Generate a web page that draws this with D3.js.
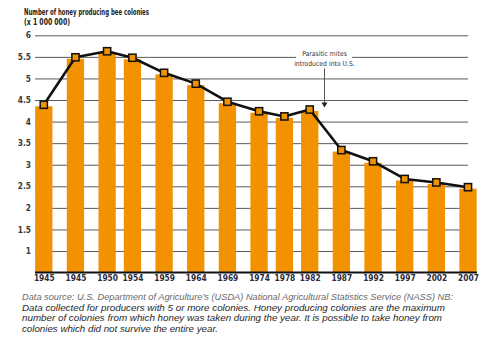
<!DOCTYPE html>
<html>
<head>
<meta charset="utf-8">
<title>Honey producing bee colonies</title>
<script src="https://d3js.org/d3.v7.min.js"></script>
<style>
  body { margin: 0; background: #fff; }
  svg text { font-family: "Liberation Sans Narrow", "DejaVu Sans Condensed", sans-serif; }
  .axis .domain { display: none; }
</style>
</head>
<body>
<div id="chart"></div>
<script>
// tick labels under the bars (the first one really reads 1945 twice)
const yearLabels = ["1945", "1945", "1950", "1954", "1959", "1964", "1969", "1974", "1978", "1982", "1987", "1992", "1997", "2002", "2007"];
// where each bar sits on the time axis (first bar one 5-year step left of 1945)
const yearPos = [1940, 1945, 1950, 1954, 1959, 1964, 1969, 1974, 1978, 1982, 1987, 1992, 1997, 2002, 2007];
// colonies, millions
const colonies = [4.39, 5.49, 5.63, 5.48, 5.13, 4.88, 4.46, 4.24, 4.12, 4.28, 3.34, 3.08, 2.67, 2.59, 2.48];
const yTicks = [1, 1.5, 2, 2.5, 3, 3.5, 4, 4.5, 5, 5.5, 6];

const titleLines = ["Number of honey producing bee colonies", "(x 1 000 000)"];
const noteLines = [
  "Data source: U.S. Department of Agriculture\u2019s (USDA) National Agricultural Statistics Service (NASS) NB:",
  "Data collected for producers with 5 or more colonies. Honey producing colonies are the maximum",
  "number of colonies from which honey was taken during the year. It is possible to take honey from",
  "colonies which did not survive the entire year."
];
const noteWidths = [431, 423, 420, 196];

const width = 490, height = 353;
const left = 35, gridRight = 468;

const svg = d3.select("#chart").append("svg")
  .attr("width", width)
  .attr("height", height)
  .style("display", "block");

svg.append("rect").attr("width", width).attr("height", height).attr("fill", "#fff");

const x = d3.scaleLinear().domain([1940, 2007]).range([43.8, 468]);
const y = d3.scaleLinear().domain([0.5, 6]).range([272.6, 35.3]);
const barW = 17.3;

// y axis with gridlines
const yAxis = svg.append("g")
  .attr("class", "axis")
  .attr("transform", "translate(" + left + ",0)")
  .call(d3.axisLeft(y).tickValues(yTicks).tickSize(-(gridRight - left)).tickPadding(4).tickFormat(d3.format("")));
yAxis.selectAll(".tick line").attr("stroke", "#5a5a5a").attr("stroke-width", 1);
yAxis.selectAll(".tick text")
  .attr("fill", "#3a3a3a")
  .style("font-size", "8.3px")
  .style("font-weight", "bold");

// gap in the 5.5 gridline for the annotation
svg.append("rect")
  .attr("x", 296).attr("y", 48)
  .attr("width", 56).attr("height", 20)
  .attr("fill", "#fff");

// bars (tops sit just under the markers)
svg.selectAll(".bar")
  .data(colonies)
  .enter()
  .append("rect")
  .attr("class", "bar")
  .attr("x", (d, i) => x(yearPos[i]) - barW / 2)
  .attr("y", d => y(d) + 1.5)
  .attr("width", barW)
  .attr("height", d => y(0.5) - y(d) - 1.5)
  .attr("fill", "#f39200");

// baseline
svg.append("line")
  .attr("x1", left).attr("x2", 477)
  .attr("y1", y(0.5)).attr("y2", y(0.5))
  .attr("stroke", "#111")
  .attr("stroke-width", 2);

// x labels
const xAxis = svg.append("g")
  .attr("class", "axis")
  .attr("transform", "translate(0," + y(0.5) + ")")
  .call(d3.axisBottom(x).tickValues(yearPos).tickSize(0).tickPadding(2.5)
    .tickFormat((d, i) => yearLabels[i]));
xAxis.selectAll(".tick text")
  .attr("fill", "#2a2a3a")
  .style("font-size", "8.3px")
  .style("font-weight", "bold");

// line + square markers
const line = d3.line()
  .x((d, i) => x(yearPos[i]))
  .y(d => y(d));

svg.append("path")
  .datum(colonies)
  .attr("d", line)
  .attr("fill", "none")
  .attr("stroke", "#111")
  .attr("stroke-width", 2.6)
  .attr("stroke-linejoin", "round");

svg.selectAll(".marker")
  .data(colonies)
  .enter()
  .append("rect")
  .attr("class", "marker")
  .attr("x", (d, i) => x(yearPos[i]) - 3.6)
  .attr("y", d => y(d) - 3.6)
  .attr("width", 7.2)
  .attr("height", 7.2)
  .attr("fill", "#f39200")
  .attr("stroke", "#111")
  .attr("stroke-width", 1.5);

// annotation
const ann = svg.append("g").attr("fill", "#333").style("font-size", "6.8px").attr("text-anchor", "middle");
ann.append("text").attr("x", 324.5).attr("y", 55.5).text("Parasitic mites");
ann.append("text").attr("x", 324.5).attr("y", 65.5).text("introduced into U.S.");
svg.append("line")
  .attr("x1", 324.5).attr("x2", 324.5)
  .attr("y1", 68.5).attr("y2", 103)
  .attr("stroke", "#555").attr("stroke-width", 1);
svg.append("path")
  .attr("d", "M321.5,102.5 L327.5,102.5 L324.5,107.5 Z")
  .attr("fill", "#222");

// title
svg.selectAll(".title")
  .data(titleLines)
  .enter()
  .append("text")
  .attr("class", "title")
  .attr("x", 24)
  .attr("y", (d, i) => 14.5 + i * 10.5)
  .attr("fill", "#222")
  .style("font-size", "8.6px")
  .style("font-weight", "bold")
  .attr("textLength", (d, i) => i === 0 ? 125 : 46)
  .attr("lengthAdjust", "spacingAndGlyphs")
  .text(d => d);

// footnote
svg.selectAll(".note")
  .data(noteLines)
  .enter()
  .append("text")
  .attr("class", "note")
  .attr("x", 22)
  .attr("y", (d, i) => 300 + i * 10.7)
  .attr("fill", (d, i) => i === 0 ? "#6a6a6a" : "#262626")
  .style("font-family", "'Liberation Sans', sans-serif")
  .style("font-style", "italic")
  .style("font-size", "9.4px")
  .attr("textLength", (d, i) => noteWidths[i])
  .attr("lengthAdjust", "spacingAndGlyphs")
  .text(d => d);
</script>
</body>
</html>
